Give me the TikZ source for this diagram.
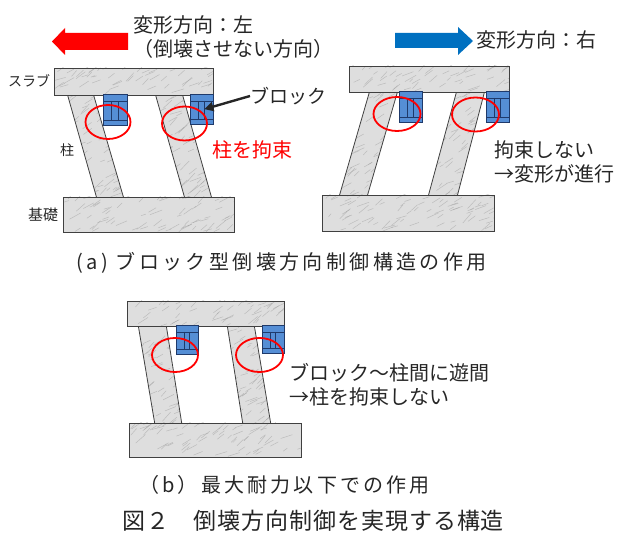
\documentclass[tikz,border=0pt]{standalone}
\usepackage{fontspec}
\setmainfont{Noto Sans CJK JP}
\usetikzlibrary{calc,positioning,arrows.meta}

\definecolor{stonegray}{HTML}{DEDEDE}
\definecolor{veingray}{HTML}{9A9A9A}
\definecolor{blockblue}{HTML}{558ED5}
\definecolor{blockedge}{HTML}{1F3A6B}
\definecolor{pushblue}{HTML}{0070C0}
\definecolor{txtgray}{HTML}{262626}

% marble-like member: #1 closed path, #2..#5 its box (xmin,ymin,xmax,ymax)
\newcommand{\marble}[5]{%
  \begin{scope}
    \clip #1;
    \fill[stonegray] #1;
    \pgfmathtruncatemacro\nvein{(#4-#2)*(#5-#3)/80}
    \foreach \k in {1,...,\nvein}{
      \pgfmathsetmacro\vx{#2+rnd*(#4-#2)}
      \pgfmathsetmacro\vy{#3+rnd*(#5-#3)}
      \pgfmathsetmacro\va{-50+rnd*35}
      \pgfmathsetmacro\vl{4+9*rnd}
      \draw[veingray, line width=0.5pt, opacity=0.5] (\vx,\vy) -- ++(\va:\vl);
    }
  \end{scope}
  \draw[edge] #1;
}

% steel block with its inner plates: name, x, y (top left), width, height
\newcommand{\steelblock}[5]{%
  \node[stopper, minimum width=#4pt, minimum height=#5pt, anchor=north west] (#1) at (#2,#3) {};
  \draw[plate] ($(#1.north west)+(0,6)$) -- ($(#1.north east)+(0,6)$);
  \draw[plate] ($(#1.south west)+(0,-6)$) -- ($(#1.south east)+(0,-6)$);
  \draw[plate] ($(#1.north west)!0.37!(#1.north east)+(0,6)$) -- ($(#1.south west)!0.37!(#1.south east)+(0,-6)$);
  \draw[plate] ($(#1.north west)!0.63!(#1.north east)+(0,6)$) -- ($(#1.south west)!0.63!(#1.south east)+(0,-6)$);
}

\begin{document}
\begin{tikzpicture}[x=1pt, y=-1pt,
    edge/.style={draw=black!75, line width=0.8pt},
    stopper/.style={draw=blockedge, fill=blockblue, line width=1pt, inner sep=0pt, outer sep=0pt},
    plate/.style={blockedge, line width=0.9pt},
    ring/.style={red, line width=1.8pt},
    lbl/.style={text=txtgray, inner sep=0pt, font=\fontsize{20}{24}\selectfont},
    small/.style={text=txtgray, inner sep=0pt, font=\fontsize{14}{16}\selectfont},
    caption/.style={lbl, font=\fontsize{20}{24}\selectfont\addfontfeature{LetterSpace=#1}},
    pointer/.style={-{Triangle[length=9pt, width=9pt]}, line width=2.4pt, black!85}
  ]
  \useasboundingbox (0,0) rectangle (622,534);
  \pgfmathsetseed{17}

  % ---- (a) left: leaning towards the blocks
  \marble{(67,93) -- (93,93) -- (124,199) -- (97,199) -- cycle}{67}{93}{124}{199}
  \marble{(155,93) -- (182,93) -- (212,199) -- (185,199) -- cycle}{155}{93}{212}{199}
  \marble{(54,68) rectangle (213,95)}{54}{68}{213}{95}
  \marble{(63,197) rectangle (234,232)}{63}{197}{234}{232}
  \steelblock{bA1}{103}{95}{24}{31}
  \steelblock{bA2}{190}{95}{23}{30}
  \draw[ring] (108,122) ellipse [x radius=22.5, y radius=17];
  \draw[ring] (184.5,123.5) ellipse [x radius=22.5, y radius=17];

  \fill[red] (52,41.5) -- (65,28) -- (65,33) -- (128,33) -- (128,50) -- (65,50) -- (65,55) -- cycle;
  \node[lbl, anchor=north west, align=left] (dirL) at (133,15) {変形方向：左\\（倒壊させない方向）};
  \node[small, anchor=west] (slabA) at (8,81) {スラブ};
  \node[small] (colA) at (67,150) {柱};
  \node[small, font=\fontsize{15}{17}\selectfont] (baseA) at (43,215) {基礎};
  \node[lbl, anchor=west, font=\fontsize{19}{22}\selectfont] (blkName) at (250,96) {ブロック};
  \node[lbl, anchor=west, text=red] (holdA) at (212,150) {柱を拘束};
  \draw[pointer, shorten >=3pt] (blkName.west) -- (bA2.center);

  % ---- (a) right: leaning away from the blocks
  \marble{(370,90) -- (398,90) -- (367,197) -- (339,197) -- cycle}{339}{90}{398}{197}
  \marble{(457,90) -- (485,90) -- (457,197) -- (428,197) -- cycle}{428}{90}{485}{197}
  \marble{(349,66) rectangle (509,92)}{349}{66}{509}{92}
  \marble{(322,195) rectangle (494,231)}{322}{195}{494}{231}
  \steelblock{bB1}{399}{92}{23}{31}
  \steelblock{bB2}{486}{92}{23}{31}
  \draw[ring] (397,114) ellipse [x radius=23.5, y radius=17];
  \draw[ring] (475.5,114.5) ellipse [x radius=23.5, y radius=17];

  \fill[pushblue] (395,33) -- (458,33) -- (458,27) -- (473,41) -- (458,55) -- (458,48) -- (395,48) -- cycle;
  \node[lbl, anchor=west] (dirR) at (476,40) {変形方向：右};
  \node[lbl, anchor=north west, align=left] (freeB) at (494,141) {拘束しない\\→変形が進行};

  \node[caption=17, anchor=west] (capA) at (76,263) {(a) ブロック型倒壊方向制御構造の作用};

  % ---- (b): gap between block and column
  \marble{(138,324) -- (166,324) -- (182,425) -- (155,425) -- cycle}{138}{324}{182}{425}
  \marble{(227,324) -- (254,324) -- (271,425) -- (243,425) -- cycle}{227}{324}{271}{425}
  \marble{(127,301) rectangle (284,326)}{127}{301}{284}{326}
  \marble{(129,423) rectangle (301,457)}{129}{423}{301}{457}
  \steelblock{bC1}{176}{326}{22}{29}
  \steelblock{bC2}{262}{326}{22}{28}
  \draw[ring] (175,355) ellipse [x radius=23, y radius=17];
  \draw[ring] (259.5,355) ellipse [x radius=23.5, y radius=17];

  \node[lbl, anchor=north west, align=left] (gapC) at (289,363) {ブロック～柱間に遊間\\→柱を拘束しない};
  \node[caption=16, anchor=west] (capB) at (139,485) {（b）最大耐力以下での作用};

  \node[lbl, anchor=west, font=\fontsize{23}{26}\selectfont\addfontfeature{LetterSpace=4}] (figcap) at (122,521) {図２　倒壊方向制御を実現する構造};
\end{tikzpicture}
\end{document}
